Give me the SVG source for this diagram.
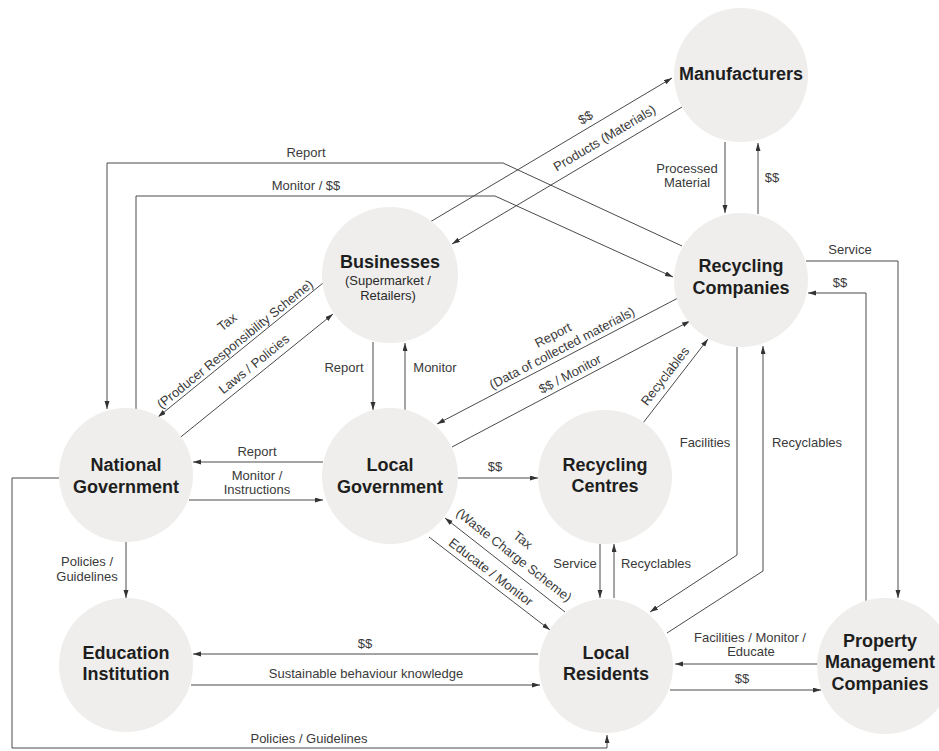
<svg xmlns="http://www.w3.org/2000/svg" width="939" height="751" viewBox="0 0 939 751">
  <style>
    .node { fill: #efeeec; }
    .title { font-family: "Liberation Sans", Arial, Helvetica, sans-serif; font-size: 18px; font-weight: bold; fill: #1e1e1e; text-anchor: middle; }
    .sub { font-family: "Liberation Sans", Arial, Helvetica, sans-serif; font-size: 13px; fill: #2a2a2a; text-anchor: middle; }
    .edge { fill: none; stroke: #4a4a4a; stroke-width: 1; marker-end: url(#arrow); }
    .lbl { font-family: "Liberation Sans", Arial, Helvetica, sans-serif; font-size: 13px; fill: #3a3a3a; text-anchor: middle; }
  </style>
  <defs>
    <marker id="arrow" markerUnits="userSpaceOnUse" markerWidth="9" markerHeight="6" refX="8" refY="2.5" orient="auto">
      <path d="M0,0 L8,2.5 L0,5 z" fill="#333"/>
    </marker>
  </defs>
  <rect width="939" height="751" fill="#ffffff"/>

  <!-- connectors -->
  <g id="connectors">
    <path class="edge" d="M682,246 L503,163 L107,163 L107,409"/>
    <path class="edge" d="M136,409 L136,196 L495,196 L673,277"/>
    <path class="edge" d="M430,222 L672,78"/>
    <path class="edge" d="M682,107 L452,244"/>
    <path class="edge" d="M725,142 L725,213"/>
    <path class="edge" d="M758,214 L758,143"/>
    <path class="edge" d="M806,261 L898,261 L898,598"/>
    <path class="edge" d="M866,601 L866,293 L808,293"/>
    <path class="edge" d="M177,440 L333,314"/>
    <path class="edge" d="M323,283 L158,417"/>
    <path class="edge" d="M373,342 L373,410"/>
    <path class="edge" d="M405,410 L405,343"/>
    <path class="edge" d="M678,298 L437,424"/>
    <path class="edge" d="M452,447 L690,321"/>
    <path class="edge" d="M323,462 L193,462"/>
    <path class="edge" d="M189,500 L323,500"/>
    <path class="edge" d="M458,478 L538,478"/>
    <path class="edge" d="M643,423 L708,339"/>
    <path class="edge" d="M737,347 L737,555 L650,612"/>
    <path class="edge" d="M667,633 L763,571 L763,346"/>
    <path class="edge" d="M600,544 L600,598"/>
    <path class="edge" d="M614,598 L614,544"/>
    <path class="edge" d="M429,537 L550,630"/>
    <path class="edge" d="M565,612 L445,518"/>
    <path class="edge" d="M126,542 L126,598"/>
    <path class="edge" d="M538,654 L193,654"/>
    <path class="edge" d="M191,685 L540,685"/>
    <path class="edge" d="M818,664 L675,664"/>
    <path class="edge" d="M670,690 L821,690"/>
    <path class="edge" d="M59,478 L12,478 L12,748 L607,748 L607,735"/>

    <!-- straight labels -->
    <text class="lbl" x="306" y="157">Report</text>
    <text class="lbl" x="306" y="190">Monitor / $$</text>
    <text class="lbl" x="687" y="173">Processed</text>
    <text class="lbl" x="687" y="187">Material</text>
    <text class="lbl" x="772" y="182">$$</text>
    <text class="lbl" x="850" y="254">Service</text>
    <text class="lbl" x="840" y="287">$$</text>
    <text class="lbl" x="344" y="372">Report</text>
    <text class="lbl" x="435" y="372">Monitor</text>
    <text class="lbl" x="257" y="456">Report</text>
    <text class="lbl" x="257" y="480">Monitor /</text>
    <text class="lbl" x="257" y="494">Instructions</text>
    <text class="lbl" x="495" y="471">$$</text>
    <text class="lbl" x="705" y="447">Facilities</text>
    <text class="lbl" x="807" y="447">Recyclables</text>
    <text class="lbl" x="575" y="568">Service</text>
    <text class="lbl" x="656" y="568">Recyclables</text>
    <text class="lbl" x="87" y="566">Policies /</text>
    <text class="lbl" x="87" y="581">Guidelines</text>
    <text class="lbl" x="365" y="648">$$</text>
    <text class="lbl" x="366" y="678">Sustainable behaviour knowledge</text>
    <text class="lbl" x="309" y="743">Policies / Guidelines</text>
    <text class="lbl" x="750" y="642">Facilities / Monitor /</text>
    <text class="lbl" x="751" y="656">Educate</text>
    <text class="lbl" x="742" y="683">$$</text>

    <!-- slanted labels -->
    <text class="lbl" y="4.5" transform="translate(585.5,117.5) rotate(-30.8)">$$</text>
    <text class="lbl" y="4.5" transform="translate(604.5,138) rotate(-30.8)">Products (Materials)</text>
    <text class="lbl" y="4.5" transform="translate(227,322) rotate(-39)">Tax</text>
    <text class="lbl" y="4.5" transform="translate(235,344) rotate(-39)">(Producer Responsibility Scheme)</text>
    <text class="lbl" y="4.5" transform="translate(254,364) rotate(-38.9)">Laws / Policies</text>
    <text class="lbl" y="4.5" transform="translate(553,335) rotate(-27.6)">Report</text>
    <text class="lbl" y="4.5" transform="translate(562,348) rotate(-27.6)">(Data of collected materials)</text>
    <text class="lbl" y="4.5" transform="translate(570,374) rotate(-27.9)">$$ / Monitor</text>
    <text class="lbl" y="4.5" transform="translate(665,376) rotate(-52.3)">Recyclables</text>
    <text class="lbl" y="4.5" transform="translate(523,540) rotate(38.1)">Tax</text>
    <text class="lbl" y="4.5" transform="translate(514,555) rotate(38.1)">(Waste Charge Scheme)</text>
    <text class="lbl" y="4.5" transform="translate(491,572) rotate(37.5)">Educate / Monitor</text>
  </g>

  <!-- nodes -->
  <g id="manufacturers">
    <circle class="node" cx="741" cy="75" r="67"/>
    <text class="title" x="741" y="80">Manufacturers</text>
  </g>
  <g id="recycling-companies">
    <circle class="node" cx="741" cy="280" r="67"/>
    <text class="title" x="741" y="272">Recycling</text>
    <text class="title" x="741" y="294">Companies</text>
  </g>
  <g id="businesses">
    <circle class="node" cx="390" cy="275" r="68"/>
    <text class="title" x="390" y="268">Businesses</text>
    <text class="sub" x="388" y="285">(Supermarket /</text>
    <text class="sub" x="388" y="300">Retailers)</text>
  </g>
  <g id="national-government">
    <circle class="node" cx="126" cy="475" r="67"/>
    <text class="title" x="126" y="471">National</text>
    <text class="title" x="126" y="493">Government</text>
  </g>
  <g id="local-government">
    <circle class="node" cx="390" cy="476" r="68"/>
    <text class="title" x="390" y="471">Local</text>
    <text class="title" x="390" y="493">Government</text>
  </g>
  <g id="recycling-centres">
    <circle class="node" cx="605" cy="477" r="67"/>
    <text class="title" x="605" y="471">Recycling</text>
    <text class="title" x="605" y="492">Centres</text>
  </g>
  <g id="education-institution">
    <circle class="node" cx="126" cy="665" r="67"/>
    <text class="title" x="126" y="659">Education</text>
    <text class="title" x="126" y="680">Institution</text>
  </g>
  <g id="local-residents">
    <circle class="node" cx="606" cy="666" r="67"/>
    <text class="title" x="606" y="659">Local</text>
    <text class="title" x="606" y="680">Residents</text>
  </g>
  <g id="property-management-companies">
    <circle class="node" cx="885" cy="666" r="68"/>
    <text class="title" x="880" y="647">Property</text>
    <text class="title" x="880" y="668">Management</text>
    <text class="title" x="880" y="690">Companies</text>
  </g>
</svg>
